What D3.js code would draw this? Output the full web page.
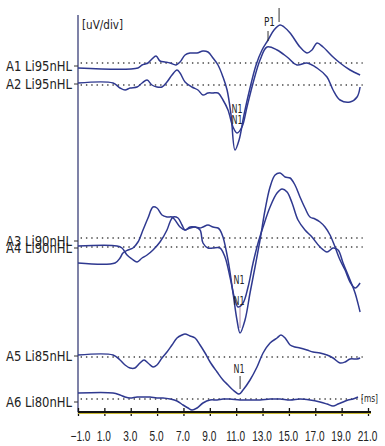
<!DOCTYPE html>
<html>
<head>
<meta charset="utf-8">
<script src="https://cdn.jsdelivr.net/npm/d3@7/dist/d3.min.js"></script>
<style>
  body { margin: 0; background: #fff; }
  svg text { font-family: "Liberation Sans Narrow", "DejaVu Sans Condensed", "Arial Narrow", sans-serif; fill: #222; }
</style>
</head>
<body>
<div id="chart"></div>
<script>
// trace names (channel + stimulus level)
const traceNames = ["A1 Li95nHL", "A2 Li95nHL", "A3 Li90nHL", "A4 Li90nHL", "A5 Li85nHL", "A6 Li80nHL"];

// [latency ms, amplitude] (1 unit = 1/10 of the vertical spacing unit)
const a1 = [[-1.0,0],[3.55,0],[3.86,0.3],[4.08,0.4],[4.31,0.5],[4.61,0.9],[4.92,1.2],[5.22,0.7],[5.60,0.6],[5.98,0.5],
  [6.44,0.3],[6.74,0.6],[7.12,1.3],[7.50,1.5],[8.03,1.5],[8.48,1.7],[8.86,1.6],[9.24,1.0],[9.62,0.3],[10.00,-0.9],
  [10.31,-2.2],[10.61,-4.7],[10.91,-8.2],[11.22,-7.2],[11.59,-4.7],[12.05,-2.0],[12.51,0.3],[12.96,1.8],[13.42,2.8],
  [13.87,3.8],[14.33,4.3],[14.63,4.1],[15.09,3.5],[15.84,2.1],[16.37,1.5],[16.75,1.8],[17.13,2.5],[17.59,2.1],
  [18.35,1.1],[18.88,0.5],[19.64,-0.2],[20.40,-0.7]];
const a2 = [[-1.0,0],[1.66,0],[2.19,-0.5],[2.57,-0.7],[2.95,-0.5],[3.48,-0.4],[3.86,0],[4.24,0.3],[4.61,-0.2],[4.99,-0.4],
  [5.37,-0.4],[5.75,0.1],[6.13,0.8],[6.51,1.3],[6.74,1.0],[7.12,0.1],[7.65,-0.4],[8.10,-0.7],[8.48,-1.2],[8.86,-1.0],
  [9.24,-1.0],[9.62,-1.0],[10.00,-1.7],[10.38,-2.7],[10.76,-4.4],[11.06,-5.0],[11.44,-4.4],[11.82,-2.4],[12.28,0],
  [12.81,2.3],[13.34,3.6],[14.10,3.3],[14.86,2.6],[15.61,1.8],[16.37,2.0],[17.13,1.5],[17.89,0.6],[18.35,-0.7],
  [18.88,-1.7],[19.64,-1.9],[20.17,-1.4],[20.40,-0.4]];
const a3 = [[-1.0,0],[1.96,0],[2.34,-0.2],[2.72,-0.9],[3.10,-1.3],[3.48,-1.6],[3.86,-1.2],[4.24,-0.9],[4.69,-0.4],[5.22,0.4],
  [5.75,1.6],[5.98,2.4],[6.21,2.9],[6.59,2.8],[6.89,2.1],[7.12,1.6],[7.50,1.9],[7.88,1.9],[8.26,1.8],[8.48,1.9],
  [8.86,2.1],[9.24,1.9],[9.62,1.8],[9.77,1.6],[10.00,0.9],[10.38,-1.4],[10.76,-4.7],[11.06,-7.4],[11.29,-8.7],
  [11.67,-7.4],[12.05,-4.7],[12.43,-2.1],[12.81,0.6],[13.19,3.6],[13.57,5.9],[13.95,7.1],[14.33,7.3],[14.71,6.9],
  [15.09,6.8],[15.46,6.1],[15.84,4.9],[16.22,3.8],[16.60,2.9],[16.98,2.7],[17.36,2.4],[17.74,1.9],[18.12,1.1],
  [18.50,-0.1],[18.88,-1.4],[19.26,-2.4],[19.64,-3.6],[20.02,-4.2],[20.40,-3.7]];
const a4 = [[-1.0,0],[1.81,0],[2.19,0.5],[2.41,1.0],[2.79,1.3],[3.17,1.5],[3.55,2.1],[3.93,3.3],[4.31,4.5],[4.69,5.6],
  [4.99,5.5],[5.37,4.8],[5.75,4.6],[6.13,4.6],[6.36,4.3],[6.74,3.6],[7.12,3.3],[7.50,3.5],[7.88,3.6],[8.26,3.3],
  [8.48,2.0],[8.86,1.5],[9.24,1.5],[9.77,1.5],[10.15,0.6],[10.53,-1.4],[10.91,-3.7],[11.14,-4.4],[11.52,-4.0],
  [11.90,-2.4],[12.28,0],[12.66,2.0],[13.04,3.6],[13.57,5.6],[14.10,7.0],[14.48,7.4],[14.86,7.1],[15.24,6.0],
  [15.69,4.3],[16.22,3.3],[16.75,2.6],[17.36,1.6],[17.89,1.1],[18.35,1.5],[18.73,1.3],[19.11,0],[19.64,-1.7],
  [20.02,-3.0],[20.40,-4.9]];
const a5 = [[-1.0,0],[1.66,0],[2.19,-0.5],[2.57,-1.0],[2.95,-1.3],[3.32,-1.3],[3.70,-0.8],[4.01,-0.5],[4.31,-0.8],[4.69,-1.2],
  [4.99,-1.0],[5.37,-0.3],[5.75,0.3],[6.13,1.0],[6.51,1.7],[6.89,2.0],[7.12,2.1],[7.50,1.9],[7.88,1.7],[8.26,1.0],
  [8.64,0.2],[9.02,-0.7],[9.55,-1.7],[10.00,-2.5],[10.38,-3.0],[10.76,-3.5],[11.22,-3.9],[11.52,-3.5],[12.05,-2.5],
  [12.58,-1.2],[13.04,0.2],[13.57,1.2],[14.10,1.7],[14.40,2.0],[14.71,1.7],[15.09,1.0],[15.46,0.8],[15.84,0.7],
  [16.37,0.5],[16.83,0.3],[17.36,0.2],[17.89,0],[18.35,-0.3],[18.88,-0.8],[19.26,-0.7],[19.64,-0.4],[20.17,-0.4],[20.40,-0.3]];
const a6 = [[-1.0,0],[1.66,0],[2.19,-0.2],[2.57,-0.4],[2.95,-0.5],[3.48,-0.4],[3.93,-0.4],[4.46,-0.4],[4.99,-0.5],[5.45,-0.5],
  [5.98,-0.6],[6.51,-0.8],[6.97,-1.2],[7.35,-1.5],[7.65,-1.7],[8.03,-1.5],[8.48,-1.0],[9.02,-0.7],[9.55,-0.7],[10.00,-0.6],
  [10.53,-0.6],[11.29,-0.7],[12.05,-0.7],[12.81,-0.7],[13.57,-0.6],[14.33,-0.6],[15.09,-0.7],[15.84,-0.6],[16.60,-0.7],
  [17.36,-0.9],[17.89,-1.1],[18.35,-1.3],[18.73,-1.1],[19.11,-0.9],[19.49,-0.7],[19.86,-0.6],[20.24,-0.4]];

// dotted reference level of each trace, same amplitude units
const refLevels = [0.5, -0.2, 0.8, 1.6, -0.2, -0.6];

// x axis ticks
const tickValues = [-1, 1, 3, 5, 7, 9, 11, 13, 15, 17, 19, 21];

const traces = [a1, a2, a3, a4, a5, a6];

// layout
const W = 385, H = 446;
const axisX = 78, axisY = 412;
const baseY = [68, 83, 246, 263, 355, 393];
const labelY = [66, 84, 241, 248, 356, 402];
const lineColor = "#2f3990";
const squeeze = 0.72;   // horizontal squeeze for the narrow tick font

const svg = d3.select("#chart").append("svg")
  .attr("width", W).attr("height", H);

const x = d3.scaleLinear().domain([-1, 21]).range([axisX, 368]);
const amp = d3.scaleLinear().domain([-1, 1]).range([10, -10]);

// y axis line
svg.append("line")
  .attr("x1", axisX).attr("x2", axisX)
  .attr("y1", 15).attr("y2", axisY)
  .attr("stroke", "#3a3f78").attr("stroke-width", 1.3);

svg.append("text")
  .attr("x", 82).attr("y", 29)
  .attr("font-size", 12)
  .attr("textLength", 41).attr("lengthAdjust", "spacingAndGlyphs")
  .text("[uV/div]");

// dotted reference lines
traces.forEach((tr, i) => {
  svg.append("line")
    .attr("x1", x(-0.8)).attr("x2", x(20.6))
    .attr("y1", baseY[i] + amp(refLevels[i]))
    .attr("y2", baseY[i] + amp(refLevels[i]))
    .attr("stroke", "#444").attr("stroke-width", 1.6)
    .attr("stroke-dasharray", "1.4,3.9");
});

// channel labels + small ticks on the y axis
traceNames.forEach((name, i) => {
  svg.append("text")
    .attr("x", 72).attr("y", labelY[i])
    .attr("dy", "0.35em")
    .attr("text-anchor", "end")
    .attr("font-size", 14)
    .attr("textLength", 66).attr("lengthAdjust", "spacingAndGlyphs")
    .text(name);
  svg.append("line")
    .attr("x1", axisX - 4).attr("x2", axisX)
    .attr("y1", labelY[i]).attr("y2", labelY[i])
    .attr("stroke", "#333").attr("stroke-width", 1);
});

// traces
const line = d3.line()
  .x(d => x(d[0]))
  .curve(d3.curveCatmullRom.alpha(0.5));

traces.forEach((tr, i) => {
  svg.append("path")
    .datum(tr)
    .attr("fill", "none")
    .attr("stroke", lineColor)
    .attr("stroke-width", 1.5)
    .attr("d", line.y(d => baseY[i] + amp(d[1])));
});

// peak markers
function extremum(tr, lo, hi, useMax) {
  const pts = tr.filter(d => d[0] >= lo && d[0] <= hi);
  return useMax ? d3.greatest(pts, d => d[1]) : d3.least(pts, d => d[1]);
}
function marker(px, y1, y2, col) {
  svg.append("line")
    .attr("x1", px).attr("x2", px).attr("y1", y1).attr("y2", y2)
    .attr("stroke", col || "#333").attr("stroke-width", 1);
}
function peakLabel(px, py, s, col) {
  svg.append("text").attr("x", px).attr("y", py)
    .attr("text-anchor", "middle").attr("font-size", 12)
    .attr("fill", col || "#222")
    .attr("textLength", 11).attr("lengthAdjust", "spacingAndGlyphs")
    .text(s);
}

// P1 on A1 / A2
const p1a = extremum(a1, 12, 16, true);
const p1b = extremum(a2, 12, 16, true);
marker(x(p1a[0]) - 1, baseY[0] + amp(p1a[1]) - 17, baseY[0] + amp(p1a[1]) - 3);
marker(x(p1b[0]) + 1, baseY[1] + amp(p1b[1]) - 16, baseY[1] + amp(p1b[1]) - 6);
svg.append("text").attr("x", x(p1b[0]) - 3).attr("y", 26)
  .attr("font-size", 13)
  .attr("textLength", 11).attr("lengthAdjust", "spacingAndGlyphs")
  .text("P1");

// N1 on A1 / A2
const n1a = extremum(a1, 10, 12, false);
peakLabel(x(n1a[0]) + 2, 113, "N1");
peakLabel(x(n1a[0]) + 2, 124, "N1", "#3a2a3a");

// N1 on A3 / A4
const n1c = extremum(a3, 10, 12, false);
peakLabel(x(n1c[0]) - 1, 284, "N1");
peakLabel(x(n1c[0]) - 1, 305, "N1", "#2a2a40");
marker(x(n1c[0]), 307, 328, "#b08aa8");

// N1 on A5
const n1e = extremum(a5, 10, 12, false);
peakLabel(x(n1e[0]), 373, "N1");
marker(x(n1e[0]) + 1, 376, baseY[4] + amp(n1e[1]) - 5);

// x axis
const xAxis = d3.axisBottom(x)
  .tickValues(tickValues)
  .tickFormat(d3.format(".1f"))
  .tickSize(0)
  .tickPadding(0);

const gx = svg.append("g")
  .attr("transform", `translate(0,${axisY})`)
  .call(xAxis);
gx.select(".domain").remove();
gx.append("line")
  .attr("x1", axisX).attr("x2", 371)
  .attr("y1", 1.5).attr("y2", 1.5)
  .attr("stroke", "#c9b832").attr("stroke-width", 1.2);
gx.append("line")
  .attr("x1", axisX).attr("x2", 371)
  .attr("stroke", "#111").attr("stroke-width", 2);
gx.selectAll(".tick").append("line")
  .attr("y1", -4).attr("y2", 4)
  .attr("stroke", "#111").attr("stroke-width", 1.3);
gx.selectAll(".tick text")
  .attr("y", 29)
  .attr("dy", null)
  .attr("x", d => (d < 0 ? 2 : -1) / squeeze)
  .attr("transform", `scale(${squeeze},1)`)
  .attr("font-size", 14)
  .attr("fill", "#222")
  .style("font-family", "\"Liberation Sans\", Arial, sans-serif");

svg.append("text")
  .attr("x", 361).attr("y", 402)
  .attr("font-size", 11)
  .attr("textLength", 17).attr("lengthAdjust", "spacingAndGlyphs")
  .text("[ms]");
</script>
</body>
</html>
